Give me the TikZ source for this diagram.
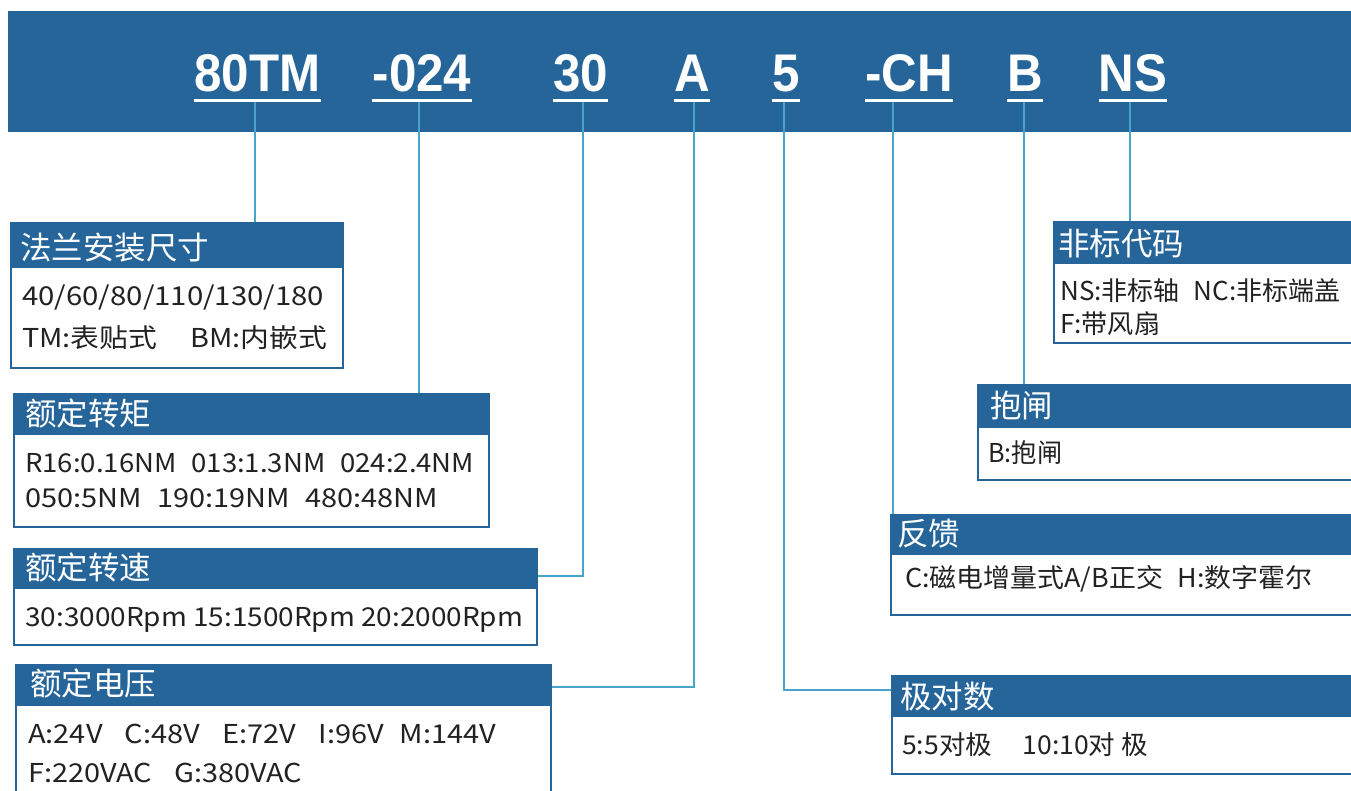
\documentclass[tikz,border=0pt]{standalone}
\usepackage{fontspec}
\setmainfont{Noto Sans CJK SC}
\newfontfamily\lblfont{Liberation Sans}
\usetikzlibrary{calc}
\definecolor{band}{HTML}{25659A}
\definecolor{connc}{HTML}{4AA3C8}
\definecolor{txt}{HTML}{222222}
\newcommand\fitw[2]{\resizebox{#1pt}{\height}{#2}}
\begin{document}
\begin{tikzpicture}[x=1pt,y=-1pt,
  frame/.style={draw=band, line width=2pt, fill=white, inner sep=0pt, anchor=north west},
  headfill/.style={draw=band, line width=2pt, fill=band, inner sep=0pt, anchor=north west},
  headtxt/.style={text=white, font=\fontsize{31.5}{31.5}\selectfont, inner sep=0pt, anchor=base west},
  bodytxt/.style={text=txt, font=\fontsize{26}{26}\selectfont, inner sep=0pt, anchor=base west},
  lbl/.style={text=white, font=\lblfont\bfseries\fontsize{53}{53}\selectfont, inner sep=0pt, anchor=base},
  uline/.style={draw=white, line width=3pt},
  connline/.style={draw=connc, line width=2.5pt}]
\useasboundingbox (0,0) rectangle (1351,790);
% top band
\node[fill=band, inner sep=0pt, anchor=north west, minimum width=1350pt, minimum height=121pt] (band) at (8,11) {};
% labels
\node[lbl] (l1) at (257.5,91) {\scalebox{0.93}[1]{80TM}};
\node[lbl] (l2) at (422,91) {\scalebox{0.93}[1]{-024}};
\node[lbl] (l3) at (580.5,91) {\scalebox{0.93}[1]{30}};
\node[lbl] (l4) at (692,91) {\scalebox{0.93}[1]{A}};
\node[lbl] (l5) at (786,91) {\scalebox{0.93}[1]{5}};
\node[lbl] (l6) at (909,91) {\scalebox{0.93}[1]{-CH}};
\node[lbl] (l7) at (1025,91) {\scalebox{0.93}[1]{B}};
\node[lbl] (l8) at (1133,91) {\scalebox{0.93}[1]{NS}};
\foreach \n in {l1,l2,l3,l4,l5,l6,l7,l8}{
  \draw[uline] ([yshift=-9pt]\n.base west) -- ([yshift=-9pt]\n.base east);
}
% connector start points
\coordinate (k1) at ([xshift=-2.5pt,yshift=-11pt]l1.base);
\coordinate (k2) at ([xshift=-3pt,yshift=-11pt]l2.base);
\coordinate (k3) at ([xshift=2.5pt,yshift=-11pt]l3.base);
\coordinate (k4) at ([xshift=2pt,yshift=-11pt]l4.base);
\coordinate (k5) at ([xshift=-2pt,yshift=-11pt]l5.base);
\coordinate (k6) at ([xshift=28pt,yshift=-11pt]l6.base west);
\coordinate (k7) at ([xshift=-1pt,yshift=-11pt]l7.base);
\coordinate (k8) at ([xshift=-3pt,yshift=-11pt]l8.base);

% boxes
\node[frame, minimum width=332pt, minimum height=145pt] (b1) at (10,222) {};
\node[headfill, minimum width=332pt, minimum height=44pt] (h1) at (10,222) {};
\node[headtxt] at (20,259) {法兰安装尺寸};
\node[bodytxt] at (22,305) {\fitw{302}{40/60/80/110/130/180}};
\node[bodytxt] at (22,347) {\fitw{305}{TM:表贴式\hspace{30pt}BM:内嵌式}};

\node[frame, minimum width=475pt, minimum height=133pt] (b2) at (13,393) {};
\node[headfill, minimum width=475pt, minimum height=40pt] (h2) at (13,393) {};
\node[headtxt] at (25,425) {额定转矩};
\node[bodytxt] at (25,472) {\fitw{449}{R16:0.16NM\hspace{14pt}013:1.3NM\hspace{14pt}024:2.4NM}};
\node[bodytxt] at (25,507) {\fitw{413}{050:5NM\hspace{14pt}190:19NM\hspace{14pt}480:48NM}};

\node[frame, minimum width=523pt, minimum height=96pt] (b3) at (13,548) {};
\node[headfill, minimum width=523pt, minimum height=39pt] (h3) at (13,548) {};
\node[headtxt] at (25,579) {额定转速};
\node[bodytxt] at (25,626) {\fitw{498}{30:3000Rpm 15:1500Rpm 20:2000Rpm}};

\node[frame, minimum width=535pt, minimum height=140pt] (b4) at (15,664) {};
\node[headfill, minimum width=535pt, minimum height=40pt] (h4) at (15,664) {};
\node[headtxt] at (30,695) {额定电压};
\node[bodytxt] at (28,743) {\fitw{468}{A:24V\hspace{20pt}C:48V\hspace{20pt}E:72V\hspace{20pt}I:96V\hspace{14pt}M:144V}};
\node[bodytxt] at (28,782) {\fitw{274}{F:220VAC\hspace{20pt}G:380VAC}};

\node[frame, minimum width=310pt, minimum height=121pt] (b5) at (1053,221) {};
\node[headfill, minimum width=310pt, minimum height=41pt] (h5) at (1053,221) {};
\node[headtxt] at (1058,255) {非标代码};
\node[bodytxt] at (1060,300) {\fitw{280}{NS:非标轴\hspace{14pt}NC:非标端盖}};
\node[bodytxt] at (1060,333) {\fitw{100}{F:带风扇}};

\node[frame, minimum width=385pt, minimum height=95pt] (b6) at (977,384) {};
\node[headfill, minimum width=385pt, minimum height=42pt] (h6) at (977,384) {};
\node[headtxt] at (990,417) {抱闸};
\node[bodytxt] at (988,462) {\fitw{74}{B:抱闸}};

\node[frame, minimum width=472pt, minimum height=100pt] (b7) at (890,514) {};
\node[headfill, minimum width=472pt, minimum height=39pt] (h7) at (890,514) {};
\node[headtxt] at (897,545) {反馈};
\node[bodytxt] at (905,587) {\fitw{407}{C:磁电增量式A/B正交\hspace{14pt}H:数字霍尔}};

\node[frame, minimum width=471pt, minimum height=98pt] (b8) at (891,675) {};
\node[headfill, minimum width=471pt, minimum height=40pt] (h8) at (891,675) {};
\node[headtxt] at (900,708) {极对数};
\node[bodytxt] at (902,754) {\fitw{246}{5:5对极\hspace{30pt}10:10对\hspace{6pt}极}};

% connectors
\draw[connline] (k1) -- (k1 |- b1.north);
\draw[connline] (k2) -- (k2 |- b2.north);
\draw[connline] (k3) |- ([yshift=-28pt]b3.north east);
\draw[connline] (k4) |- ([yshift=-23pt]b4.north east);
\draw[connline] (k5) |- ([yshift=-15pt]b8.north west);
\draw[connline] (k6) -- (k6 |- b7.north);
\draw[connline] (k7) -- (k7 |- b6.north);
\draw[connline] (k8) -- (k8 |- b5.north);
\end{tikzpicture}
\end{document}
